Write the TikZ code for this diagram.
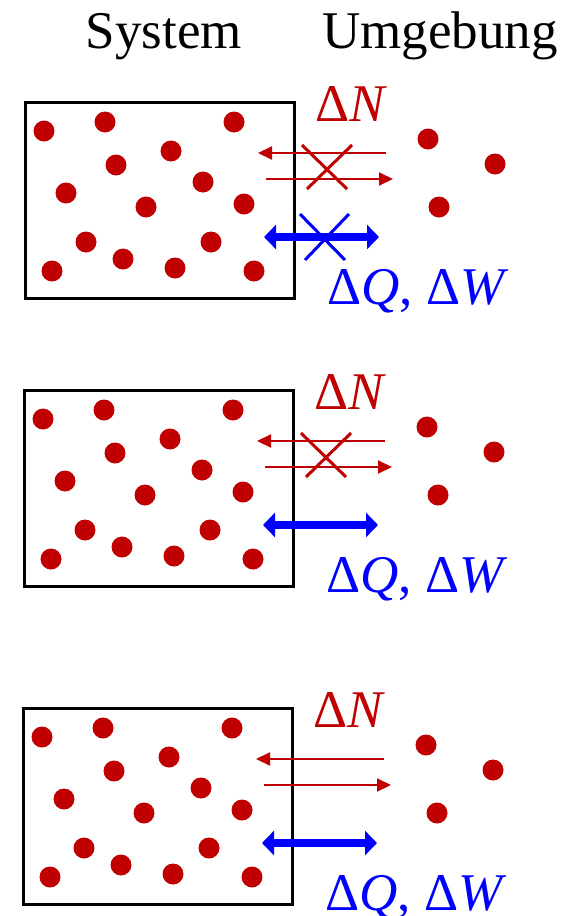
\documentclass[tikz,border=0pt]{standalone}
\usepackage{fontspec}
\setmainfont{LiberationSerif}[Extension=.ttf, UprightFont=*-Regular,
  ItalicFont=*-Italic, BoldFont=*-Bold, BoldItalicFont=*-BoldItalic]
\usetikzlibrary{arrows.meta}
\definecolor{dotred}{RGB}{192,0,0}
\definecolor{flowblue}{RGB}{0,0,255}
\newcommand{\dlt}[1]{{\upshape Δ}{\itshape #1}}

\begin{document}
\begin{tikzpicture}[x=1pt, y=-1pt,
    every node/.style={font=\fontsize{53}{60}\selectfont, inner sep=0pt},
    wall/.style={draw, line width=3pt, minimum width=269pt, minimum height=196pt},
    particle/.style={circle, fill=dotred, minimum size=21pt},
    massflow/.style={dotred, line width=2pt, -{Triangle[length=14pt,width=13pt]}},
    energyflow/.style={flowblue, line width=8pt,
        {Triangle[length=12pt,width=24pt]}-{Triangle[length=12pt,width=24pt]}},
    blocked/.style={line width=3pt}]
  \useasboundingbox (0,0) rectangle (566,916);
  % --- Ueberschriften ---
  \node[anchor=base] (sys) at (164,48) {System};
  \node[anchor=base] (umg) at (440,48) {Umgebung};
  % --- drei Faelle: abgeschlossen, geschlossen, offen ---
  \foreach \dx/\dy/\heat/\mass [count=\p] in {0/0/0/0, -1/288/1/0, -2/606/1/1} {
    \begin{scope}[shift={(\dx,\dy)}]
      \node[wall] (box\p) at (159.5,200) {};
      \foreach \x/\y [count=\i] in {44/131, 105/122, 234/122, 116/165, 171/151,
          66/193, 203/182, 146/207, 244/204, 86/242, 211/242, 52/271,
          123/259, 175/268, 254/271}
        \node[particle] (in\p-\i) at (\x,\y) {};
      \foreach \x/\y [count=\i] in {428/139, 495/164, 439/207}
        \node[particle] (out\p-\i) at (\x,\y) {};
      % Teilchenaustausch
      \coordinate (ninA\p)  at (386,153);
      \coordinate (ninB\p)  at (258,153);
      \coordinate (noutA\p) at (266,179);
      \coordinate (noutB\p) at (393,179);
      \draw[massflow] (ninA\p) -- (ninB\p);
      \draw[massflow] (noutA\p) -- (noutB\p);
      \node[anchor=base, text=dotred] (dn\p) at (350,121) {\dlt{N}};
      % Energieaustausch
      \coordinate (qL\p) at (264,237);
      \coordinate (qR\p) at (379,237);
      \draw[energyflow] (qL\p) -- (qR\p);
      \node[anchor=base, text=flowblue] (dq\p) at (416,304) {\dlt{Q}, \dlt{W}};
      \ifnum\mass=0
        \draw[dotred, blocked] (302,145) -- (347,189) (352,145) -- (307,189);
      \fi
      \ifnum\heat=0
        \draw[flowblue, blocked] (300,214) -- (345,260) (349,214) -- (305,260);
      \fi
    \end{scope}
  }
\end{tikzpicture}
\end{document}
